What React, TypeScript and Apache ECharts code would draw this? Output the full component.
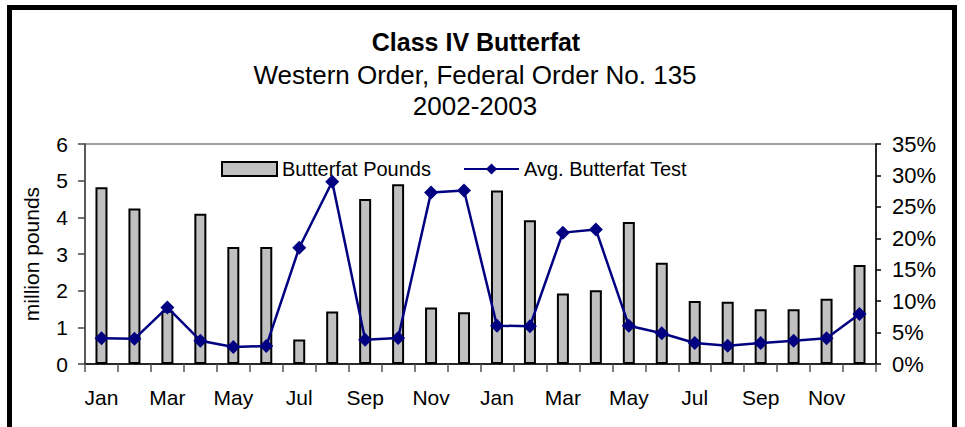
import React, { useEffect, useRef } from "react";
import * as echarts from "echarts";

const months = [
  "Jan", "Feb", "Mar", "Apr", "May", "Jun", "Jul", "Aug", "Sep", "Oct", "Nov", "Dec",
  "Jan", "Feb", "Mar", "Apr", "May", "Jun", "Jul", "Aug", "Sep", "Oct", "Nov", "Dec",
];
const butterfatPounds = [
  4.82, 4.24, 1.45, 4.1, 3.19, 3.19, 0.67, 1.43, 4.5, 4.9, 1.54, 1.41,
  4.73, 3.92, 1.92, 2.01, 3.87, 2.76, 1.72, 1.7, 1.49, 1.49, 1.78, 2.7,
];
const avgButterfatTest = [
  4.1, 4.0, 9.0, 3.7, 2.7, 2.86, 18.5, 29.0, 3.86, 4.13, 27.3, 27.6,
  6.1, 6.0, 20.9, 21.4, 6.1, 4.9, 3.34, 2.9, 3.34, 3.7, 4.08, 7.94,
];
const titleText = "Class IV Butterfat";
const subtitleText = "Western Order, Federal Order No. 135";
const yearText = "2002-2003";

const FONT = "'Liberation Sans', Arial, sans-serif";

export default function App() {
  const ref = useRef<HTMLDivElement>(null);
  useEffect(() => {
    if (!ref.current) return;
    const chart = echarts.init(ref.current, null, { renderer: "svg" });
    chart.setOption({
      animation: false,
      backgroundColor: "#ffffff",
      textStyle: { fontFamily: FONT },
      graphic: [
        {
          type: "rect",
          shape: { x: 9.5, y: 7.5, width: 945, height: 500 },
          style: { fill: "none", stroke: "#000", lineWidth: 5 },
          silent: true,
        },
        {
          type: "text",
          x: 476,
          y: 42,
          style: {
            text: titleText,
            font: `bold 25px ${FONT}`,
            fill: "#000",
            textAlign: "center",
            textVerticalAlign: "middle",
          },
        },
        {
          type: "text",
          x: 475,
          y: 75,
          style: {
            text: subtitleText,
            font: `26px ${FONT}`,
            fill: "#000",
            textAlign: "center",
            textVerticalAlign: "middle",
          },
        },
        {
          type: "text",
          x: 475,
          y: 106,
          style: {
            text: yearText,
            font: `26px ${FONT}`,
            fill: "#000",
            textAlign: "center",
            textVerticalAlign: "middle",
          },
        },
      ],
      legend: {
        left: 216,
        top: 154,
        itemGap: 32,
        itemWidth: 55,
        itemHeight: 14,
        textStyle: { fontSize: 20, color: "#000", fontFamily: FONT },
        data: [
          { name: "Butterfat Pounds", icon: "rect" },
          { name: "Avg. Butterfat Test" },
        ],
      },
      grid: {
        left: 85,
        right: 89,
        top: 144,
        bottom: 63,
        show: true,
        borderColor: "#808080",
        borderWidth: 1.5,
        backgroundColor: "transparent",
      },
      xAxis: {
        type: "category",
        data: months,
        boundaryGap: true,
        axisLine: { lineStyle: { color: "#000", width: 1.5 } },
        axisTick: { show: true, interval: 0, length: 8, lineStyle: { color: "#555", width: 1.5 } },
        axisLabel: { interval: 1, fontSize: 21, color: "#000", margin: 23, fontFamily: FONT },
        splitLine: { show: false },
      },
      yAxis: [
        {
          type: "value",
          min: 0,
          max: 6,
          interval: 1,
          name: "million pounds",
          nameLocation: "middle",
          nameGap: 43,
          nameRotate: 90,
          nameTextStyle: { fontSize: 21, color: "#000", fontFamily: FONT },
          axisLine: { show: true, lineStyle: { color: "#444", width: 1.5 } },
          axisTick: { show: true, length: 7, lineStyle: { color: "#444", width: 1.5 } },
          axisLabel: { fontSize: 21, color: "#000", margin: 17, fontFamily: FONT },
          splitLine: { show: false },
        },
        {
          type: "value",
          min: 0,
          max: 35,
          interval: 5,
          position: "right",
          axisLine: { show: true, lineStyle: { color: "#000", width: 1.5 } },
          axisTick: { show: true, length: 5, lineStyle: { color: "#000", width: 1.5 } },
          axisLabel: { fontSize: 22, color: "#000", margin: 16, formatter: "{value}%", fontFamily: FONT },
          splitLine: { show: false },
        },
      ],
      series: [
        {
          name: "Butterfat Pounds",
          type: "bar",
          yAxisIndex: 0,
          data: butterfatPounds,
          barWidth: 12,
          itemStyle: { color: "#c0c0c0", borderColor: "#000", borderWidth: 2 },
          z: 2,
        },
        {
          name: "Avg. Butterfat Test",
          type: "line",
          yAxisIndex: 1,
          data: avgButterfatTest,
          symbol: "diamond",
          symbolSize: 14,
          lineStyle: { color: "#000080", width: 2.5 },
          itemStyle: { color: "#000080" },
          z: 3,
        },
      ],
    });
    return () => chart.dispose();
  }, []);
  return (
    <div
      ref={ref}
      style={{ position: "fixed", left: 0, top: 0, width: 965, height: 427 }}
    />
  );
}
